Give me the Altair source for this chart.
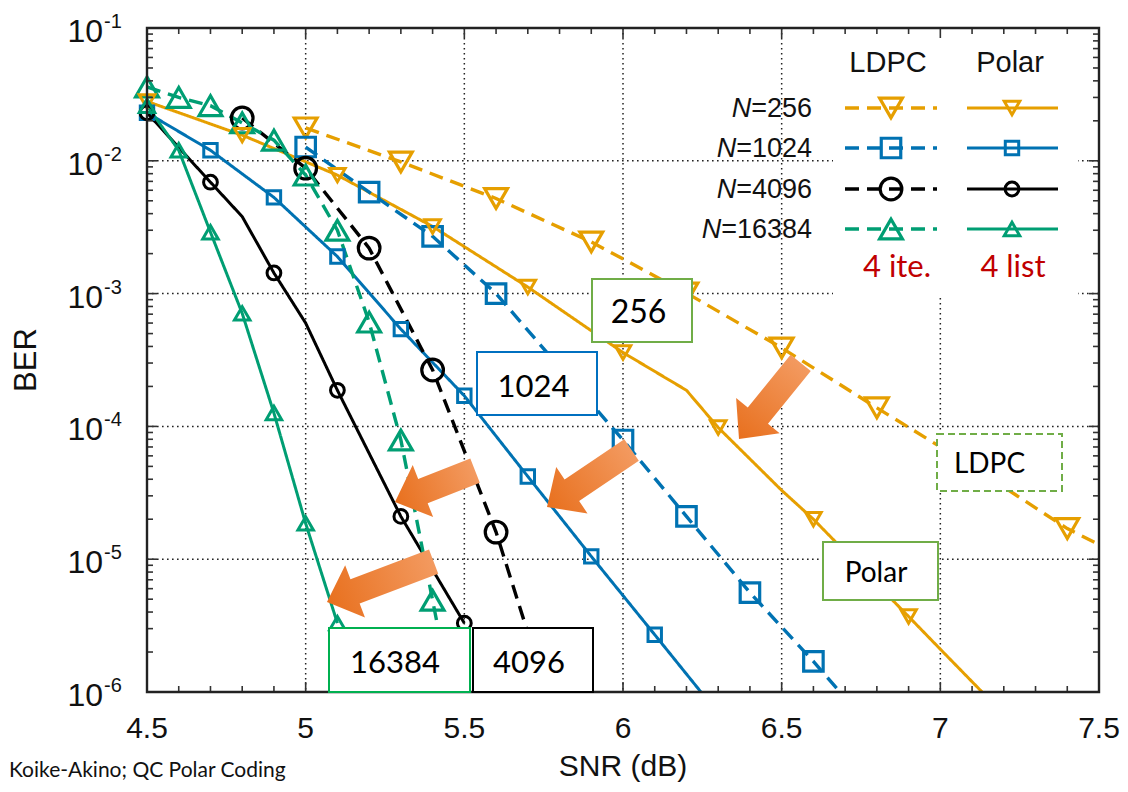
import altair as alt
import pandas as pd
import numpy as np

# ---------------- data ----------------
N_LABELS = ["256", "1024", "4096", "16384"]

ldpc_snr_256 = [5.0, 5.3, 5.6, 5.9, 6.2, 6.5, 6.8, 7.1, 7.4, 7.5]
ldpc_ber_256 = [1.77e-2, 9.8e-3, 5.2e-3, 2.45e-3, 1.01e-3, 3.9e-4, 1.38e-4, 5.0e-5, 1.7e-5, 1.29e-5]
ldpc_mark_256 = [1, 1, 1, 1, 1, 1, 1, 1, 1, 0]

polar_snr_256 = [4.5, 4.8, 5.1, 5.4, 5.7, 6.0, 6.2, 6.3, 6.5, 6.6, 6.9, 7.0, 7.2]
polar_ber_256 = [2.8e-2, 1.56e-2, 7.8e-3, 3.2e-3, 1.12e-3, 3.6e-4, 1.87e-4, 9.8e-5, 3.3e-5, 2.0e-5, 3.7e-6, 2.1e-6, 6.8e-7]
polar_mark_256 = [1, 1, 1, 1, 1, 1, 0, 1, 0, 1, 1, 0, 0]

ldpc_snr_1024 = [5.0, 5.2, 5.4, 5.6, 5.8, 6.0, 6.2, 6.4, 6.6, 6.7]
ldpc_ber_1024 = [1.27e-2, 5.8e-3, 2.7e-3, 1.0e-3, 2.8e-4, 7.9e-5, 2.1e-5, 5.6e-6, 1.7e-6, 9.0e-7]
ldpc_mark_1024 = [1, 1, 1, 1, 1, 1, 1, 1, 1, 0]

polar_snr_1024 = [4.5, 4.7, 4.9, 5.1, 5.3, 5.5, 5.7, 5.9, 6.1, 6.3]
polar_ber_1024 = [2.3e-2, 1.2e-2, 5.3e-3, 1.9e-3, 5.4e-4, 1.7e-4, 4.2e-5, 1.05e-5, 2.7e-6, 6.9e-7]
polar_mark_1024 = [1, 1, 1, 1, 1, 1, 1, 1, 1, 0]

ldpc_snr_4096 = [4.8, 5.0, 5.2, 5.4, 5.6, 5.7]
ldpc_ber_4096 = [2.1e-2, 8.8e-3, 2.2e-3, 2.66e-4, 1.6e-5, 2.8e-6]
ldpc_mark_4096 = [1, 1, 1, 1, 1, 0]

polar_snr_4096 = [4.5, 4.7, 4.8, 4.9, 5.0, 5.1, 5.3, 5.5]
polar_ber_4096 = [2.3e-2, 6.9e-3, 3.8e-3, 1.43e-3, 6.0e-4, 1.87e-4, 2.1e-5, 3.3e-6]
polar_mark_4096 = [1, 1, 0, 1, 0, 1, 1, 1]

ldpc_snr_16384 = [4.5, 4.6, 4.7, 4.8, 4.9, 5.0, 5.1, 5.2, 5.3, 5.4, 5.5]
ldpc_ber_16384 = [3.6e-2, 3.0e-2, 2.6e-2, 1.93e-2, 1.43e-2, 7.8e-3, 3.0e-3, 6.1e-4, 7.9e-5, 4.9e-6, 3.0e-7]
ldpc_mark_16384 = [1, 1, 1, 1, 1, 1, 1, 1, 1, 1, 0]

polar_snr_16384 = [4.5, 4.6, 4.7, 4.8, 4.9, 5.0, 5.1]
polar_ber_16384 = [2.6e-2, 1.2e-2, 2.9e-3, 7.1e-4, 1.26e-4, 1.86e-5, 3.3e-6]
polar_mark_16384 = [1, 1, 1, 1, 1, 1, 1]

x_tick_labels = ["4.5", "5", "5.5", "6", "6.5", "7", "7.5"]
y_decades = [1e-1, 1e-2, 1e-3, 1e-4, 1e-5, 1e-6]

annot_labels = ["256", "1024", "Polar", "16384", "4096"]
footer_text = "Koike-Akino; QC Polar Coding"

# ---------------- layout / style ----------------
W, H = 952, 664
COLORS = ["#E69F00", "#0072B2", "#000000", "#009E73"]
SHAPES = ["triangle-down", "square", "circle", "triangle-up"]
LDPC_SIZE = {"256": 520, "1024": 380, "4096": 470, "16384": 520}
POLAR_SIZE = {"256": 240, "1024": 180, "4096": 190, "16384": 240}
AXIS_FONT = "Liberation Sans"
BOX_FONT = "Lato"

series = [
    ("256", "LDPC", ldpc_snr_256, ldpc_ber_256, ldpc_mark_256),
    ("256", "Polar", polar_snr_256, polar_ber_256, polar_mark_256),
    ("1024", "LDPC", ldpc_snr_1024, ldpc_ber_1024, ldpc_mark_1024),
    ("1024", "Polar", polar_snr_1024, polar_ber_1024, polar_mark_1024),
    ("4096", "LDPC", ldpc_snr_4096, ldpc_ber_4096, ldpc_mark_4096),
    ("4096", "Polar", polar_snr_4096, polar_ber_4096, polar_mark_4096),
    ("16384", "LDPC", ldpc_snr_16384, ldpc_ber_16384, ldpc_mark_16384),
    ("16384", "Polar", polar_snr_16384, polar_ber_16384, polar_mark_16384),
]
rows = []
for n, code, xs_, ys_, ms_ in series:
    for x, y, m in zip(xs_, ys_, ms_):
        sz = LDPC_SIZE[n] if code == "LDPC" else POLAR_SIZE[n]
        rows.append(dict(N=n, code=code, series=f"{code}{n}", snr=x, ber=y, mark=m, sz=sz))
df = pd.DataFrame(rows)

one = pd.DataFrame({"a": [0]})


def X(field="snr"):
    return alt.X(f"{field}:Q", scale=alt.Scale(domain=[4.5, 7.5], nice=False, zero=False), axis=None)


def Y(field="ber"):
    return alt.Y(f"{field}:Q", scale=alt.Scale(type="log", domain=[1e-6, 1e-1], nice=False), axis=None)


def PX(field):
    return alt.X(f"{field}:Q", scale=None, axis=None)


def PY(field):
    return alt.Y(f"{field}:Q", scale=None, axis=None)


color_enc = alt.Color("N:N", scale=alt.Scale(domain=N_LABELS, range=COLORS), legend=None)
shape_enc = alt.Shape("N:N", scale=alt.Scale(domain=N_LABELS, range=SHAPES), legend=None)
dash_enc = alt.StrokeDash("code:N", scale=alt.Scale(domain=["LDPC", "Polar"], range=[[14, 8], [1, 0]]), legend=None)
width_enc = alt.StrokeWidth("code:N", scale=alt.Scale(domain=["LDPC", "Polar"], range=[3.4, 3.0]), legend=None)

layers = []

# grid
vgrid = pd.DataFrame({"snr": [5.0, 5.5, 6.0, 6.5, 7.0]})
layers.append(alt.Chart(vgrid).mark_rule(color="#222", strokeDash=[1.6, 3.4], strokeWidth=1.5)
              .encode(x=X(), y=alt.value(0), y2=alt.value(H)))
hgrid = pd.DataFrame({"ber": [1e-2, 1e-3, 1e-4, 1e-5]})
layers.append(alt.Chart(hgrid).mark_rule(color="#222", strokeDash=[1.6, 3.4], strokeWidth=1.5)
              .encode(y=Y(), x=alt.value(0), x2=alt.value(W)))

# legend background (hides grid)
layers.append(alt.Chart(one).mark_rect(fill="white", strokeWidth=0)
              .encode(x=alt.value(686), x2=alt.value(931), y=alt.value(0), y2=alt.value(270)))

# data lines
layers.append(alt.Chart(df).mark_line(clip=True)
              .encode(x=X(), y=Y(), color=color_enc, strokeDash=dash_enc, strokeWidth=width_enc,
                      detail="series:N", order="snr:Q"))

# markers
mk = df[df["mark"] == 1]
layers.append(alt.Chart(mk[mk["code"] == "LDPC"]).mark_point(filled=False, strokeWidth=3.2, opacity=1)
              .encode(x=X(), y=Y(), color=color_enc, shape=shape_enc, size=alt.Size("sz:Q", scale=None, legend=None)))
layers.append(alt.Chart(mk[mk["code"] == "Polar"]).mark_point(filled=False, strokeWidth=3.0, opacity=1)
              .encode(x=X(), y=Y(), color=color_enc, shape=shape_enc, size=alt.Size("sz:Q", scale=None, legend=None)))

# ticks
xt = np.round(np.arange(4.5, 7.5001, 0.1), 1)
xmaj = pd.DataFrame({"snr": [v for v in xt if abs(v * 2 - round(v * 2)) < 1e-6]})
xmin = pd.DataFrame({"snr": [v for v in xt if abs(v * 2 - round(v * 2)) >= 1e-6]})
ymaj = pd.DataFrame({"ber": y_decades})
ymin = pd.DataFrame({"ber": [k * 10.0 ** e for e in range(-6, -1) for k in range(2, 10)]})
TK = dict(color="#333", strokeWidth=1.6)
for d, L in ((xmaj, 10), (xmin, 6)):
    layers.append(alt.Chart(d).mark_rule(**TK).encode(x=X(), y=alt.value(H), y2=alt.value(H - L)))
    layers.append(alt.Chart(d).mark_rule(**TK).encode(x=X(), y=alt.value(0), y2=alt.value(L)))
for d, L in ((ymaj, 10), (ymin, 6)):
    layers.append(alt.Chart(d).mark_rule(**TK).encode(y=Y(), x=alt.value(0), x2=alt.value(L)))
    layers.append(alt.Chart(d).mark_rule(**TK).encode(y=Y(), x=alt.value(W), x2=alt.value(W - L)))

# frame
layers.append(alt.Chart(one).mark_rect(fillOpacity=0, stroke="#222", strokeWidth=2.4)
              .encode(x=alt.value(0), x2=alt.value(W), y=alt.value(0), y2=alt.value(H)))

# legend
row_y = [80, 120, 161, 201]
LFS = 27
leg = pd.DataFrame({"N": N_LABELS, "py": row_y, "lab": ["=" + n for n in N_LABELS]})
leg["nx"] = [665 - (0.584 + 0.556 * len(n)) * LFS for n in N_LABELS]
layers.append(alt.Chart(leg).mark_text(align="right", baseline="alphabetic", dy=9, font=AXIS_FONT, fontSize=LFS, color="#111")
              .encode(x=alt.value(665), y=PY("py"), text="lab:N"))
layers.append(alt.Chart(leg).mark_text(align="right", baseline="alphabetic", dy=9, font=AXIS_FONT, fontSize=LFS,
                                       fontStyle="italic", color="#111")
              .encode(x=PX("nx"), y=PY("py"), text=alt.value("N")))
lrows = []
for n, yy in zip(N_LABELS, row_y):
    for code, (a, b) in (("LDPC", (698, 790)), ("Polar", (820, 911))):
        for lx in (a, b):
            lrows.append(dict(N=n, code=code, sid=code + n, lx=lx, py=yy))
legl = pd.DataFrame(lrows)
layers.append(alt.Chart(legl).mark_line()
              .encode(x=PX("lx"), y=PY("py"), color=color_enc, strokeDash=dash_enc, strokeWidth=width_enc, detail="sid:N"))
mrows = []
for n, yy in zip(N_LABELS, row_y):
    mrows.append(dict(N=n, code="LDPC", lx=744, py=yy, sz=LDPC_SIZE[n]))
    mrows.append(dict(N=n, code="Polar", lx=865, py=yy, sz=POLAR_SIZE[n]))
legm = pd.DataFrame(mrows)
layers.append(alt.Chart(legm[legm["code"] == "LDPC"]).mark_point(filled=False, strokeWidth=3.2, opacity=1)
              .encode(x=PX("lx"), y=PY("py"), color=color_enc, shape=shape_enc, size=alt.Size("sz:Q", scale=None, legend=None)))
layers.append(alt.Chart(legm[legm["code"] == "Polar"]).mark_point(filled=False, strokeWidth=3.0, opacity=1)
              .encode(x=PX("lx"), y=PY("py"), color=color_enc, shape=shape_enc, size=alt.Size("sz:Q", scale=None, legend=None)))
layers.append(alt.Chart(one).mark_text(font=AXIS_FONT, fontSize=29, align="center", baseline="alphabetic", color="#111")
              .encode(x=alt.value(741), y=alt.value(44), text=alt.value("LDPC")))
layers.append(alt.Chart(one).mark_text(font=AXIS_FONT, fontSize=29, align="center", baseline="alphabetic", color="#111")
              .encode(x=alt.value(863), y=alt.value(44), text=alt.value("Polar")))
layers.append(alt.Chart(one).mark_text(font=BOX_FONT, fontSize=31, align="center", baseline="alphabetic", color="#C00000")
              .encode(x=alt.value(750), y=alt.value(249), text=alt.value("4 ite.")))
layers.append(alt.Chart(one).mark_text(font=BOX_FONT, fontSize=31, align="center", baseline="alphabetic", color="#C00000")
              .encode(x=alt.value(866), y=alt.value(249), text=alt.value("4 list")))

# arrows (block arrows, tip at origin, pointing +x, rotated)
def arrow_path(L, hl=30, hw=28, sw=13):
    return f"M0,0 L{-hl},{-hw} L{-hl},{-sw} L{-L},{-sw} L{-L},{sw} L{-hl},{sw} L{-hl},{hw} Z"

arrows = pd.DataFrame({
    "tx": [592, 400, 248, 180],
    "ty": [411, 479, 474, 574],
    "ang": [129, 146, 158.6, 159.3],
    "path": [arrow_path(98), arrow_path(102), arrow_path(86), arrow_path(114)],
})
grad = alt.LinearGradient(gradient="linear",
                          stops=[alt.GradientStop(color="#F39A60", offset=0),
                                 alt.GradientStop(color="#E8701E", offset=1)],
                          x1=0, x2=1, y1=0, y2=0)
layers.append(alt.Chart(arrows).mark_point(filled=True, fill=grad, opacity=1, strokeWidth=0, size=4)
              .encode(x=PX("tx"), y=PY("ty"), shape=alt.Shape("path:N", scale=None, legend=None),
                      angle=alt.Angle("ang:Q", scale=None)))

# annotation boxes
boxes = pd.DataFrame({
    "lab": annot_labels,
    "x0": [445, 330, 676, 182, 326], "x1": [545, 450, 791, 323, 446],
    "y0": [251, 324, 514, 600, 600], "y1": [314, 387, 572, 664, 664],
    "stroke": ["#70AD47", "#0070C0", "#70AD47", "#00B050", "#000000"],
    "tx": [491.5, 386.5, 729, 248, 382], "ty": [295, 369, 554, 645, 645],
    "fs": [32, 31, 28, 31, 31],
})
layers.append(alt.Chart(boxes).mark_rect(fill="white", strokeWidth=2)
              .encode(x=PX("x0"), x2=alt.X2("x1"), y=PY("y0"), y2=alt.Y2("y1"),
                      stroke=alt.Stroke("stroke:N", scale=None, legend=None)))
layers.append(alt.Chart(boxes).mark_text(font=BOX_FONT, align="center", baseline="alphabetic", color="#000")
              .encode(x=PX("tx"), y=PY("ty"), text="lab:N", size=alt.Size("fs:Q", scale=None, legend=None)))
layers.append(alt.Chart(one).mark_rect(fill="white", stroke="#70AD47", strokeWidth=2, strokeDash=[7, 4])
              .encode(x=alt.value(790), x2=alt.value(915), y=alt.value(406), y2=alt.value(463)))
layers.append(alt.Chart(one).mark_text(font=BOX_FONT, fontSize=28, align="center", baseline="alphabetic", color="#000")
              .encode(x=alt.value(842.5), y=alt.value(445), text=alt.value("LDPC")))

# axis tick labels
xl = pd.DataFrame({"snr": [float(s) for s in x_tick_labels], "lab": x_tick_labels})
layers.append(alt.Chart(xl).mark_text(font=AXIS_FONT, fontSize=30, align="center", baseline="alphabetic", color="#111")
              .encode(x=X(), y=alt.value(H + 46), text="lab:N"))
yl = pd.DataFrame({"ber": y_decades, "base": ["10"] * len(y_decades),
                   "exp": [str(int(round(np.log10(v)))) for v in y_decades]})
layers.append(alt.Chart(yl).mark_text(font=AXIS_FONT, fontSize=32, align="right", baseline="alphabetic", dy=14, color="#111")
              .encode(y=Y(), x=alt.value(-44), text="base:N"))
layers.append(alt.Chart(yl).mark_text(font=AXIS_FONT, fontSize=20, align="left", baseline="alphabetic", dy=0, color="#111")
              .encode(y=Y(), x=alt.value(-43), text="exp:N"))

# axis titles and footer
layers.append(alt.Chart(one).mark_text(font=AXIS_FONT, fontSize=30, align="center", baseline="alphabetic", color="#111")
              .encode(x=alt.value(W / 2), y=alt.value(H + 84), text=alt.value("SNR (dB)")))
layers.append(alt.Chart(one).mark_text(font=AXIS_FONT, fontSize=31, align="center", baseline="middle", angle=270, color="#111")
              .encode(x=alt.value(-120), y=alt.value(H / 2), text=alt.value("BER")))
layers.append(alt.Chart(one).mark_text(font=BOX_FONT, fontSize=21, align="left", baseline="alphabetic", color="#111")
              .encode(x=alt.value(-138), y=alt.value(H + 85), text=alt.value(footer_text)))

chart = (alt.layer(*layers)
         .resolve_scale(x="independent", y="independent")
         .properties(width=W, height=H,
                     padding={"left": 139, "top": 20, "right": 21, "bottom": 92},
                     autosize=alt.AutoSizeParams(type="none"))
         .configure_view(stroke=None))

chart.save("out.html", embed_options={"renderer": "svg", "actions": False})
